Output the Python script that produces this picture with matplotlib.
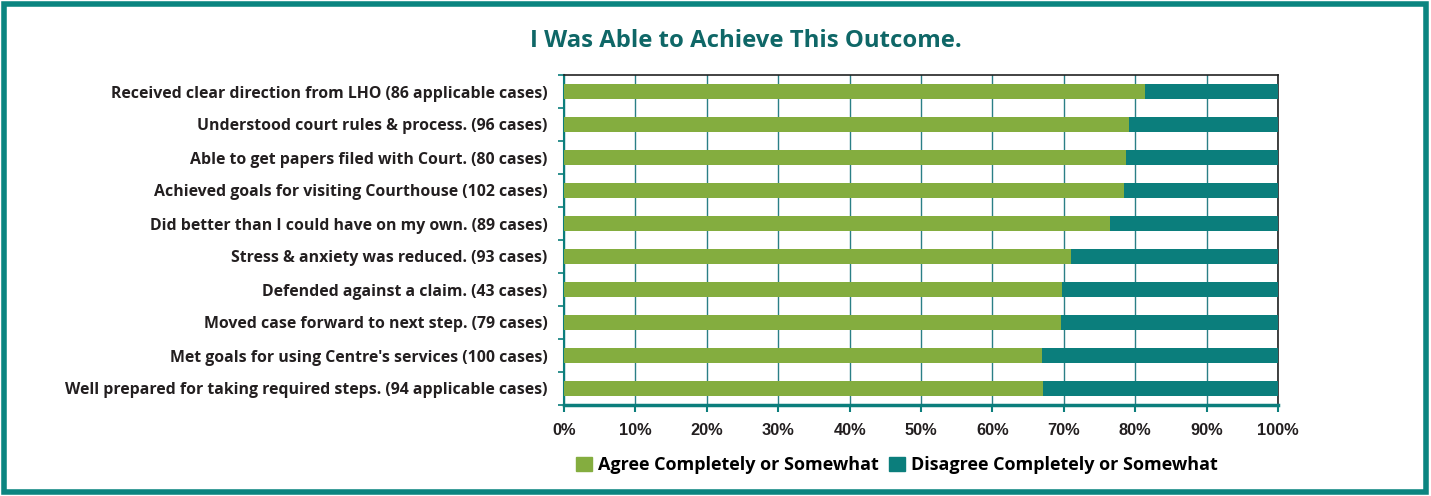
import matplotlib.pyplot as plt
import matplotlib.patches as mpatches
import numpy as np

categories = [
    "Received clear direction from LHO (86 applicable cases)",
    "Understood court rules & process. (96 cases)",
    "Able to get papers filed with Court. (80 cases)",
    "Achieved goals for visiting Courthouse (102 cases)",
    "Did better than I could have on my own. (89 cases)",
    "Stress & anxiety was reduced. (93 cases)",
    "Defended against a claim. (43 cases)",
    "Moved case forward to next step. (79 cases)",
    "Met goals for using Centre's services (100 cases)",
    "Well prepared for taking required steps. (94 applicable cases)",
]
agree = [81.4, 79.1, 78.7, 78.4, 76.5, 71.0, 69.7, 69.6, 66.9, 67.1]
disagree = [100 - a for a in agree]
tick_labels = ["0%", "10%", "20%", "30%", "40%", "50%", "60%", "70%", "80%", "90%", "100%"]

green = "#84ad3f"
teal = "#0b7e7c"
dark_teal = "#0f6767"
text_col = "#231f20"

W, H = 1431, 496
fig = plt.figure(figsize=(W / 100, H / 100), dpi=100)
ax = fig.add_axes([564 / W, 1 - 405 / H, 714 / W, 330 / H])

y = np.arange(len(categories))
ax.barh(y, agree, height=0.43, color=green, zorder=3)
ax.barh(y, disagree, left=agree, height=0.43, color=teal, zorder=3)

ax.set_xlim(0, 100)
ax.set_ylim(len(categories) - 0.5, -0.5)
ax.set_xticks(np.arange(0, 101, 10))
ax.set_xticklabels(tick_labels, fontfamily="Liberation Sans", fontweight="bold",
                   fontsize=11.8, color=text_col)
ax.set_yticks(y)
ax.set_yticklabels(categories, fontfamily="Open Sans", fontweight="bold",
                   fontsize=11.4, color=text_col)
ax.set_yticks(np.arange(-0.5, len(categories), 1), minor=True)
ax.tick_params(axis="y", which="major", length=0, pad=12)
ax.tick_params(axis="y", which="minor", length=4, color=teal, width=1.2)
ax.tick_params(axis="x", length=5, width=1.5, color=teal, pad=8)

ax.grid(axis="x", color="#2a7f86", linewidth=1, zorder=0)
for s in ["top", "right"]:
    ax.spines[s].set_color("#222222")
    ax.spines[s].set_linewidth(1.2)
ax.spines["left"].set_color(teal)
ax.spines["left"].set_linewidth(1.5)
ax.spines["bottom"].set_color(teal)
ax.spines["bottom"].set_linewidth(2.5)

fig.text(746 / W, 1 - 41 / H, "I Was Able to Achieve This Outcome.",
         ha="center", va="center", fontfamily="Open Sans", fontweight="bold",
         fontsize=17.2, color=dark_teal)

handles = [mpatches.Patch(color=green, label="Agree Completely or Somewhat"),
           mpatches.Patch(color=teal, label="Disagree Completely or Somewhat")]
fig.legend(handles=handles, loc="center", bbox_to_anchor=(897 / W, 1 - 465 / H),
           ncol=2, frameon=False, handlelength=0.85, handleheight=0.85,
           handletextpad=0.35, columnspacing=0.6,
           prop={"family": "Open Sans", "weight": "bold", "size": 13})

border = mpatches.Rectangle((4 / W, 4 / H), (W - 9) / W, (H - 8) / H,
                            transform=fig.transFigure, fill=False,
                            edgecolor="#0b8580", linewidth=4)
fig.patches.append(border)

fig.savefig("out.png", dpi=100)
